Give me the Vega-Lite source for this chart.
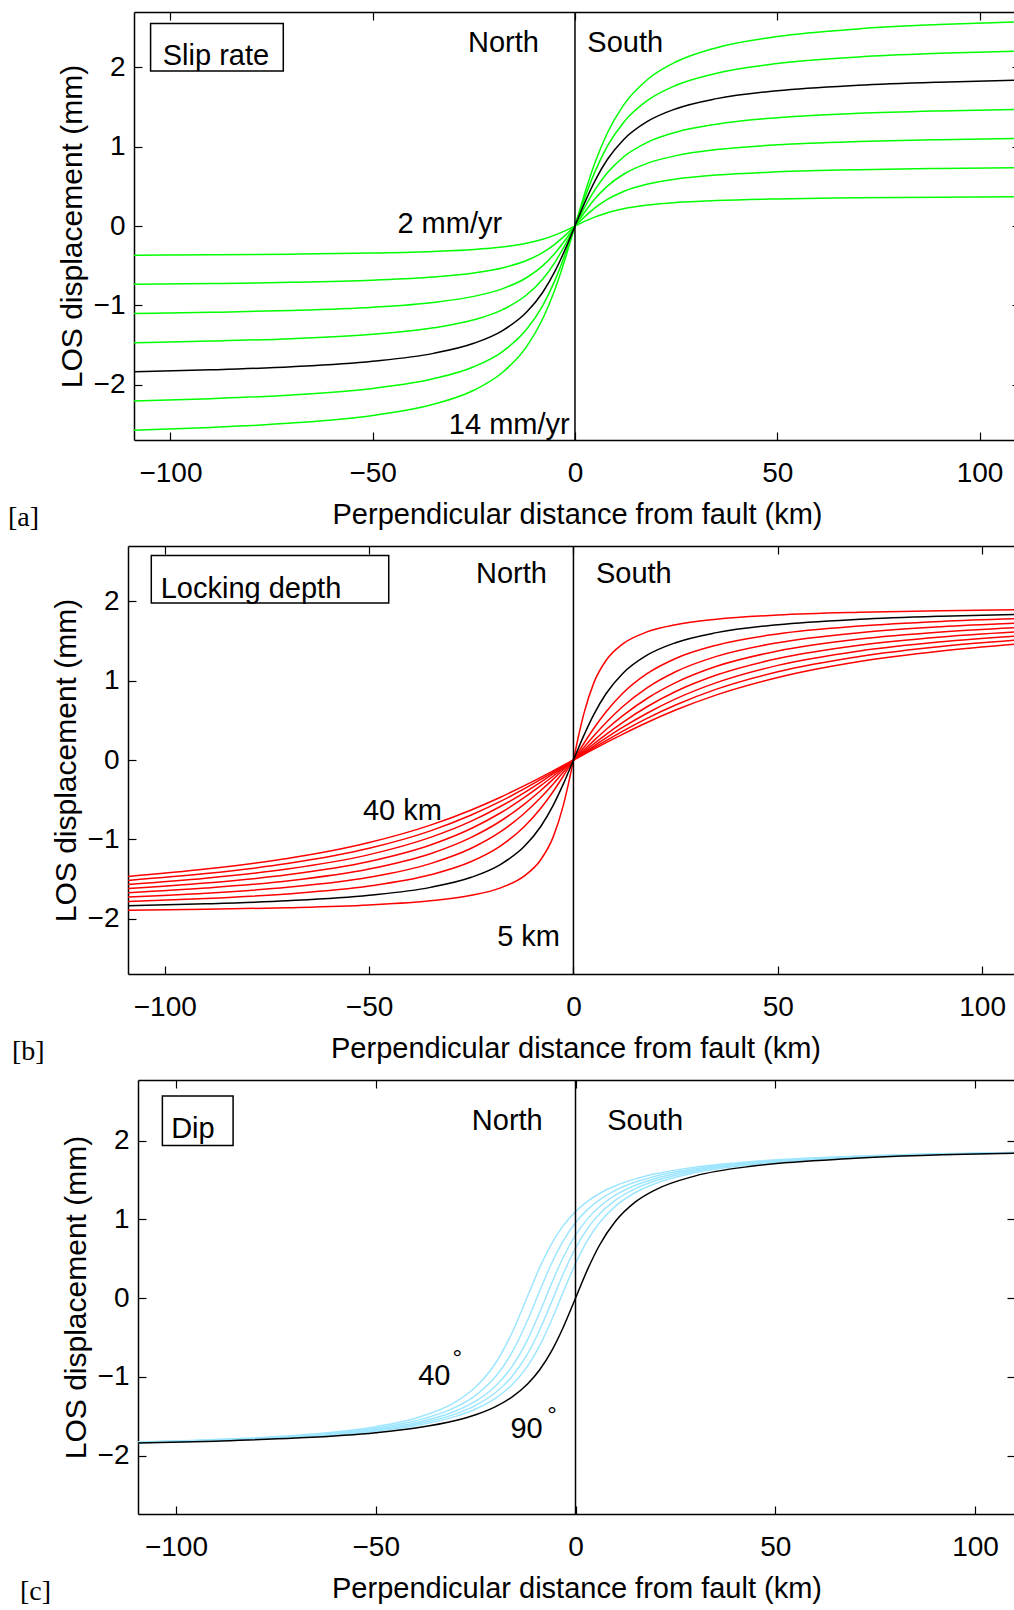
{
"$schema": "https://vega.github.io/schema/vega-lite/v6.json",
"padding": {"left": 8, "top": 11, "right": 0, "bottom": 0},
"bounds": "flush",
"spacing": 106,
"datasets": {
"a": [
{"r":2,"x":-109,"y":-0.368},{"r":2,"x":-90,"y":-0.363},{"r":2,"x":-70,"y":-0.355},{"r":2,"x":-50,"y":-0.341},{"r":2,"x":-35,"y":-0.321},{"r":2,"x":-25,"y":-0.296},{"r":2,"x":-18,"y":-0.264},{"r":2,"x":-12,"y":-0.218},{"r":2,"x":-8,"y":-0.168},{"r":2,"x":-5,"y":-0.115},{"r":2,"x":-2.5,"y":-0.061},{"r":2,"x":0,"y":0},{"r":2,"x":2.5,"y":0.061},{"r":2,"x":5,"y":0.115},{"r":2,"x":8,"y":0.168},{"r":2,"x":12,"y":0.218},{"r":2,"x":18,"y":0.264},{"r":2,"x":25,"y":0.296},{"r":2,"x":35,"y":0.321},{"r":2,"x":50,"y":0.341},{"r":2,"x":70,"y":0.355},{"r":2,"x":90,"y":0.363},{"r":2,"x":110,"y":0.368},
{"r":4,"x":-109,"y":-0.736},{"r":4,"x":-90,"y":-0.726},{"r":4,"x":-70,"y":-0.711},{"r":4,"x":-50,"y":-0.683},{"r":4,"x":-35,"y":-0.643},{"r":4,"x":-25,"y":-0.592},{"r":4,"x":-18,"y":-0.529},{"r":4,"x":-12,"y":-0.436},{"r":4,"x":-8,"y":-0.336},{"r":4,"x":-5,"y":-0.231},{"r":4,"x":-2.5,"y":-0.122},{"r":4,"x":0,"y":0},{"r":4,"x":2.5,"y":0.122},{"r":4,"x":5,"y":0.231},{"r":4,"x":8,"y":0.336},{"r":4,"x":12,"y":0.436},{"r":4,"x":18,"y":0.529},{"r":4,"x":25,"y":0.592},{"r":4,"x":35,"y":0.643},{"r":4,"x":50,"y":0.683},{"r":4,"x":70,"y":0.711},{"r":4,"x":90,"y":0.726},{"r":4,"x":110,"y":0.736},
{"r":6,"x":-109,"y":-1.104},{"r":6,"x":-90,"y":-1.089},{"r":6,"x":-70,"y":-1.066},{"r":6,"x":-50,"y":-1.024},{"r":6,"x":-35,"y":-0.964},{"r":6,"x":-25,"y":-0.888},{"r":6,"x":-18,"y":-0.793},{"r":6,"x":-12,"y":-0.653},{"r":6,"x":-8,"y":-0.503},{"r":6,"x":-5,"y":-0.346},{"r":6,"x":-2.5,"y":-0.183},{"r":6,"x":0,"y":0},{"r":6,"x":2.5,"y":0.183},{"r":6,"x":5,"y":0.346},{"r":6,"x":8,"y":0.503},{"r":6,"x":12,"y":0.653},{"r":6,"x":18,"y":0.793},{"r":6,"x":25,"y":0.888},{"r":6,"x":35,"y":0.964},{"r":6,"x":50,"y":1.024},{"r":6,"x":70,"y":1.066},{"r":6,"x":90,"y":1.089},{"r":6,"x":110,"y":1.104},
{"r":8,"x":-109,"y":-1.472},{"r":8,"x":-90,"y":-1.452},{"r":8,"x":-70,"y":-1.421},{"r":8,"x":-50,"y":-1.366},{"r":8,"x":-35,"y":-1.285},{"r":8,"x":-25,"y":-1.184},{"r":8,"x":-18,"y":-1.058},{"r":8,"x":-12,"y":-0.871},{"r":8,"x":-8,"y":-0.671},{"r":8,"x":-5,"y":-0.461},{"r":8,"x":-2.5,"y":-0.244},{"r":8,"x":0,"y":0},{"r":8,"x":2.5,"y":0.244},{"r":8,"x":5,"y":0.461},{"r":8,"x":8,"y":0.671},{"r":8,"x":12,"y":0.871},{"r":8,"x":18,"y":1.058},{"r":8,"x":25,"y":1.184},{"r":8,"x":35,"y":1.285},{"r":8,"x":50,"y":1.366},{"r":8,"x":70,"y":1.421},{"r":8,"x":90,"y":1.452},{"r":8,"x":110,"y":1.472},
{"r":10,"x":-109,"y":-1.840},{"r":10,"x":-90,"y":-1.815},{"r":10,"x":-70,"y":-1.776},{"r":10,"x":-50,"y":-1.707},{"r":10,"x":-35,"y":-1.607},{"r":10,"x":-25,"y":-1.480},{"r":10,"x":-18,"y":-1.322},{"r":10,"x":-12,"y":-1.089},{"r":10,"x":-8,"y":-0.839},{"r":10,"x":-5,"y":-0.576},{"r":10,"x":-2.5,"y":-0.305},{"r":10,"x":0,"y":0},{"r":10,"x":2.5,"y":0.305},{"r":10,"x":5,"y":0.576},{"r":10,"x":8,"y":0.839},{"r":10,"x":12,"y":1.089},{"r":10,"x":18,"y":1.322},{"r":10,"x":25,"y":1.480},{"r":10,"x":35,"y":1.607},{"r":10,"x":50,"y":1.707},{"r":10,"x":70,"y":1.776},{"r":10,"x":90,"y":1.815},{"r":10,"x":110,"y":1.840},
{"r":12,"x":-109,"y":-2.208},{"r":12,"x":-90,"y":-2.178},{"r":12,"x":-70,"y":-2.132},{"r":12,"x":-50,"y":-2.049},{"r":12,"x":-35,"y":-1.928},{"r":12,"x":-25,"y":-1.776},{"r":12,"x":-18,"y":-1.587},{"r":12,"x":-12,"y":-1.307},{"r":12,"x":-8,"y":-1.007},{"r":12,"x":-5,"y":-0.692},{"r":12,"x":-2.5,"y":-0.366},{"r":12,"x":0,"y":0},{"r":12,"x":2.5,"y":0.366},{"r":12,"x":5,"y":0.692},{"r":12,"x":8,"y":1.007},{"r":12,"x":12,"y":1.307},{"r":12,"x":18,"y":1.587},{"r":12,"x":25,"y":1.776},{"r":12,"x":35,"y":1.928},{"r":12,"x":50,"y":2.049},{"r":12,"x":70,"y":2.132},{"r":12,"x":90,"y":2.178},{"r":12,"x":110,"y":2.208},
{"r":14,"x":-109,"y":-2.576},{"r":14,"x":-90,"y":-2.541},{"r":14,"x":-70,"y":-2.487},{"r":14,"x":-50,"y":-2.390},{"r":14,"x":-35,"y":-2.250},{"r":14,"x":-25,"y":-2.072},{"r":14,"x":-18,"y":-1.851},{"r":14,"x":-12,"y":-1.525},{"r":14,"x":-8,"y":-1.174},{"r":14,"x":-5,"y":-0.807},{"r":14,"x":-2.5,"y":-0.426},{"r":14,"x":0,"y":0},{"r":14,"x":2.5,"y":0.426},{"r":14,"x":5,"y":0.807},{"r":14,"x":8,"y":1.174},{"r":14,"x":12,"y":1.525},{"r":14,"x":18,"y":1.851},{"r":14,"x":25,"y":2.072},{"r":14,"x":35,"y":2.250},{"r":14,"x":50,"y":2.390},{"r":14,"x":70,"y":2.487},{"r":14,"x":90,"y":2.541},{"r":14,"x":110,"y":2.576}
],
"b": [
{"d":5,"x":-109,"y":-1.896},{"d":5,"x":-90,"y":-1.884},{"d":5,"x":-70,"y":-1.864},{"d":5,"x":-50,"y":-1.829},{"d":5,"x":-35,"y":-1.776},{"d":5,"x":-25,"y":-1.707},{"d":5,"x":-18,"y":-1.616},{"d":5,"x":-12,"y":-1.462},{"d":5,"x":-8,"y":-1.258},{"d":5,"x":-5,"y":-0.976},{"d":5,"x":-2.5,"y":-0.576},{"d":5,"x":-1.25,"y":-0.305},{"d":5,"x":0,"y":0},{"d":5,"x":1.25,"y":0.305},{"d":5,"x":2.5,"y":0.576},{"d":5,"x":5,"y":0.976},{"d":5,"x":8,"y":1.258},{"d":5,"x":12,"y":1.462},{"d":5,"x":18,"y":1.616},{"d":5,"x":25,"y":1.707},{"d":5,"x":35,"y":1.776},{"d":5,"x":50,"y":1.829},{"d":5,"x":70,"y":1.864},{"d":5,"x":90,"y":1.884},{"d":5,"x":110,"y":1.896},
{"d":10,"x":-109,"y":-1.840},{"d":10,"x":-90,"y":-1.815},{"d":10,"x":-70,"y":-1.776},{"d":10,"x":-50,"y":-1.707},{"d":10,"x":-35,"y":-1.607},{"d":10,"x":-25,"y":-1.480},{"d":10,"x":-18,"y":-1.322},{"d":10,"x":-12,"y":-1.089},{"d":10,"x":-8,"y":-0.839},{"d":10,"x":-5,"y":-0.576},{"d":10,"x":-2.5,"y":-0.305},{"d":10,"x":0,"y":0},{"d":10,"x":2.5,"y":0.305},{"d":10,"x":5,"y":0.576},{"d":10,"x":8,"y":0.839},{"d":10,"x":12,"y":1.089},{"d":10,"x":18,"y":1.322},{"d":10,"x":25,"y":1.480},{"d":10,"x":35,"y":1.607},{"d":10,"x":50,"y":1.707},{"d":10,"x":70,"y":1.776},{"d":10,"x":90,"y":1.815},{"d":10,"x":110,"y":1.840},
{"d":15,"x":-109,"y":-1.784},{"d":15,"x":-90,"y":-1.748},{"d":15,"x":-70,"y":-1.690},{"d":15,"x":-50,"y":-1.591},{"d":15,"x":-35,"y":-1.449},{"d":15,"x":-25,"y":-1.281},{"d":15,"x":-18,"y":-1.089},{"d":15,"x":-12,"y":-0.839},{"d":15,"x":-8,"y":-0.609},{"d":15,"x":-5,"y":-0.400},{"d":15,"x":-2.5,"y":-0.205},{"d":15,"x":0,"y":0},{"d":15,"x":2.5,"y":0.205},{"d":15,"x":5,"y":0.400},{"d":15,"x":8,"y":0.609},{"d":15,"x":12,"y":0.839},{"d":15,"x":18,"y":1.089},{"d":15,"x":25,"y":1.281},{"d":15,"x":35,"y":1.449},{"d":15,"x":50,"y":1.591},{"d":15,"x":70,"y":1.690},{"d":15,"x":90,"y":1.748},{"d":15,"x":110,"y":1.784},
{"d":20,"x":-109,"y":-1.729},{"d":20,"x":-90,"y":-1.681},{"d":20,"x":-70,"y":-1.607},{"d":20,"x":-50,"y":-1.480},{"d":20,"x":-35,"y":-1.307},{"d":20,"x":-25,"y":-1.114},{"d":20,"x":-18,"y":-0.911},{"d":20,"x":-12,"y":-0.672},{"d":20,"x":-8,"y":-0.473},{"d":20,"x":-5,"y":-0.305},{"d":20,"x":-2.5,"y":-0.155},{"d":20,"x":0,"y":0},{"d":20,"x":2.5,"y":0.155},{"d":20,"x":5,"y":0.305},{"d":20,"x":8,"y":0.473},{"d":20,"x":12,"y":0.672},{"d":20,"x":18,"y":0.911},{"d":20,"x":25,"y":1.114},{"d":20,"x":35,"y":1.307},{"d":20,"x":50,"y":1.480},{"d":20,"x":70,"y":1.607},{"d":20,"x":90,"y":1.681},{"d":20,"x":110,"y":1.729},
{"d":25,"x":-109,"y":-1.675},{"d":25,"x":-90,"y":-1.616},{"d":25,"x":-70,"y":-1.526},{"d":25,"x":-50,"y":-1.376},{"d":25,"x":-35,"y":-1.182},{"d":25,"x":-25,"y":-0.976},{"d":25,"x":-18,"y":-0.776},{"d":25,"x":-12,"y":-0.556},{"d":25,"x":-8,"y":-0.385},{"d":25,"x":-5,"y":-0.245},{"d":25,"x":-2.5,"y":-0.124},{"d":25,"x":0,"y":0},{"d":25,"x":2.5,"y":0.124},{"d":25,"x":5,"y":0.245},{"d":25,"x":8,"y":0.385},{"d":25,"x":12,"y":0.556},{"d":25,"x":18,"y":0.776},{"d":25,"x":25,"y":0.976},{"d":25,"x":35,"y":1.182},{"d":25,"x":50,"y":1.376},{"d":25,"x":70,"y":1.526},{"d":25,"x":90,"y":1.616},{"d":25,"x":110,"y":1.675},
{"d":30,"x":-109,"y":-1.622},{"d":30,"x":-90,"y":-1.553},{"d":30,"x":-70,"y":-1.449},{"d":30,"x":-50,"y":-1.281},{"d":30,"x":-35,"y":-1.072},{"d":30,"x":-25,"y":-0.864},{"d":30,"x":-18,"y":-0.672},{"d":30,"x":-12,"y":-0.473},{"d":30,"x":-8,"y":-0.324},{"d":30,"x":-5,"y":-0.205},{"d":30,"x":-2.5,"y":-0.103},{"d":30,"x":0,"y":0},{"d":30,"x":2.5,"y":0.103},{"d":30,"x":5,"y":0.205},{"d":30,"x":8,"y":0.324},{"d":30,"x":12,"y":0.473},{"d":30,"x":18,"y":0.672},{"d":30,"x":25,"y":0.864},{"d":30,"x":35,"y":1.072},{"d":30,"x":50,"y":1.281},{"d":30,"x":70,"y":1.449},{"d":30,"x":90,"y":1.553},{"d":30,"x":110,"y":1.622},
{"d":35,"x":-109,"y":-1.570},{"d":35,"x":-90,"y":-1.492},{"d":35,"x":-70,"y":-1.376},{"d":35,"x":-50,"y":-1.194},{"d":35,"x":-35,"y":-0.976},{"d":35,"x":-25,"y":-0.771},{"d":35,"x":-18,"y":-0.590},{"d":35,"x":-12,"y":-0.411},{"d":35,"x":-8,"y":-0.279},{"d":35,"x":-5,"y":-0.176},{"d":35,"x":-2.5,"y":-0.089},{"d":35,"x":0,"y":0},{"d":35,"x":2.5,"y":0.089},{"d":35,"x":5,"y":0.176},{"d":35,"x":8,"y":0.279},{"d":35,"x":12,"y":0.411},{"d":35,"x":18,"y":0.590},{"d":35,"x":25,"y":0.771},{"d":35,"x":35,"y":0.976},{"d":35,"x":50,"y":1.194},{"d":35,"x":70,"y":1.376},{"d":35,"x":90,"y":1.492},{"d":35,"x":110,"y":1.570},
{"d":40,"x":-109,"y":-1.519},{"d":40,"x":-90,"y":-1.433},{"d":40,"x":-70,"y":-1.307},{"d":40,"x":-50,"y":-1.114},{"d":40,"x":-35,"y":-0.894},{"d":40,"x":-25,"y":-0.694},{"d":40,"x":-18,"y":-0.526},{"d":40,"x":-12,"y":-0.362},{"d":40,"x":-8,"y":-0.245},{"d":40,"x":-5,"y":-0.155},{"d":40,"x":-2.5,"y":-0.078},{"d":40,"x":0,"y":0},{"d":40,"x":2.5,"y":0.078},{"d":40,"x":5,"y":0.155},{"d":40,"x":8,"y":0.245},{"d":40,"x":12,"y":0.362},{"d":40,"x":18,"y":0.526},{"d":40,"x":25,"y":0.694},{"d":40,"x":35,"y":0.894},{"d":40,"x":50,"y":1.114},{"d":40,"x":70,"y":1.307},{"d":40,"x":90,"y":1.433},{"d":40,"x":110,"y":1.519},
{"d":45,"x":-109,"y":-1.470},{"d":45,"x":-90,"y":-1.376},{"d":45,"x":-70,"y":-1.243},{"d":45,"x":-50,"y":-1.042},{"d":45,"x":-35,"y":-0.822},{"d":45,"x":-25,"y":-0.630},{"d":45,"x":-18,"y":-0.473},{"d":45,"x":-12,"y":-0.324},{"d":45,"x":-8,"y":-0.219},{"d":45,"x":-5,"y":-0.138},{"d":45,"x":-2.5,"y":-0.069},{"d":45,"x":0,"y":0},{"d":45,"x":2.5,"y":0.069},{"d":45,"x":5,"y":0.138},{"d":45,"x":8,"y":0.219},{"d":45,"x":12,"y":0.324},{"d":45,"x":18,"y":0.473},{"d":45,"x":25,"y":0.630},{"d":45,"x":35,"y":0.822},{"d":45,"x":50,"y":1.042},{"d":45,"x":70,"y":1.243},{"d":45,"x":90,"y":1.376},{"d":45,"x":110,"y":1.470}
],
"c": [
{"g":40,"x":-109.5,"y":-1.826},{"g":40,"x":-90,"y":-1.794},{"g":40,"x":-70,"y":-1.740},{"g":40,"x":-50,"y":-1.631},{"g":40,"x":-40,"y":-1.524},{"g":40,"x":-30,"y":-1.317},{"g":40,"x":-25,"y":-1.128},{"g":40,"x":-20,"y":-0.823},{"g":40,"x":-16,"y":-0.451},{"g":40,"x":-12,"y":0.025},{"g":40,"x":-9,"y":0.385},{"g":40,"x":-6,"y":0.690},{"g":40,"x":-3,"y":0.924},{"g":40,"x":0,"y":1.099},{"g":40,"x":3,"y":1.229},{"g":40,"x":6,"y":1.329},{"g":40,"x":10,"y":1.427},{"g":40,"x":15,"y":1.515},{"g":40,"x":20,"y":1.579},{"g":40,"x":30,"y":1.664},{"g":40,"x":45,"y":1.738},{"g":40,"x":70,"y":1.802},{"g":40,"x":110,"y":1.851},
{"g":50,"x":-109.5,"y":-1.829},{"g":50,"x":-90,"y":-1.799},{"g":50,"x":-70,"y":-1.749},{"g":50,"x":-50,"y":-1.650},{"g":50,"x":-40,"y":-1.557},{"g":50,"x":-30,"y":-1.384},{"g":50,"x":-25,"y":-1.233},{"g":50,"x":-20,"y":-0.995},{"g":50,"x":-16,"y":-0.699},{"g":50,"x":-12,"y":-0.281},{"g":50,"x":-9,"y":0.087},{"g":50,"x":-6,"y":0.440},{"g":50,"x":-3,"y":0.734},{"g":50,"x":0,"y":0.958},{"g":50,"x":3,"y":1.124},{"g":50,"x":6,"y":1.248},{"g":50,"x":10,"y":1.369},{"g":50,"x":15,"y":1.475},{"g":50,"x":20,"y":1.549},{"g":50,"x":30,"y":1.646},{"g":50,"x":45,"y":1.728},{"g":50,"x":70,"y":1.798},{"g":50,"x":110,"y":1.849},
{"g":60,"x":-109.5,"y":-1.832},{"g":60,"x":-90,"y":-1.803},{"g":60,"x":-70,"y":-1.756},{"g":60,"x":-50,"y":-1.666},{"g":60,"x":-40,"y":-1.582},{"g":60,"x":-30,"y":-1.433},{"g":60,"x":-25,"y":-1.307},{"g":60,"x":-20,"y":-1.114},{"g":60,"x":-16,"y":-0.876},{"g":60,"x":-12,"y":-0.526},{"g":60,"x":-9,"y":-0.185},{"g":60,"x":-6,"y":0.185},{"g":60,"x":-3,"y":0.526},{"g":60,"x":0,"y":0.800},{"g":60,"x":3,"y":1.007},{"g":60,"x":6,"y":1.160},{"g":60,"x":10,"y":1.307},{"g":60,"x":15,"y":1.433},{"g":60,"x":20,"y":1.519},{"g":60,"x":30,"y":1.629},{"g":60,"x":45,"y":1.719},{"g":60,"x":70,"y":1.793},{"g":60,"x":110,"y":1.847},
{"g":70,"x":-109.5,"y":-1.834},{"g":70,"x":-90,"y":-1.806},{"g":70,"x":-70,"y":-1.761},{"g":70,"x":-50,"y":-1.677},{"g":70,"x":-40,"y":-1.601},{"g":70,"x":-30,"y":-1.469},{"g":70,"x":-25,"y":-1.361},{"g":70,"x":-20,"y":-1.198},{"g":70,"x":-16,"y":-1.001},{"g":70,"x":-12,"y":-0.708},{"g":70,"x":-9,"y":-0.407},{"g":70,"x":-6,"y":-0.050},{"g":70,"x":-3,"y":0.316},{"g":70,"x":0,"y":0.635},{"g":70,"x":3,"y":0.883},{"g":70,"x":6,"y":1.068},{"g":70,"x":10,"y":1.244},{"g":70,"x":15,"y":1.391},{"g":70,"x":20,"y":1.490},{"g":70,"x":30,"y":1.612},{"g":70,"x":45,"y":1.710},{"g":70,"x":70,"y":1.789},{"g":70,"x":110,"y":1.846},
{"g":80,"x":-109.5,"y":-1.836},{"g":80,"x":-90,"y":-1.809},{"g":80,"x":-70,"y":-1.767},{"g":80,"x":-50,"y":-1.688},{"g":80,"x":-40,"y":-1.619},{"g":80,"x":-30,"y":-1.501},{"g":80,"x":-25,"y":-1.407},{"g":80,"x":-20,"y":-1.269},{"g":80,"x":-16,"y":-1.105},{"g":80,"x":-12,"y":-0.862},{"g":80,"x":-9,"y":-0.606},{"g":80,"x":-6,"y":-0.281},{"g":80,"x":-3,"y":0.087},{"g":80,"x":0,"y":0.440},{"g":80,"x":3,"y":0.734},{"g":80,"x":6,"y":0.958},{"g":80,"x":10,"y":1.169},{"g":80,"x":15,"y":1.342},{"g":80,"x":20,"y":1.456},{"g":80,"x":30,"y":1.594},{"g":80,"x":45,"y":1.701},{"g":80,"x":70,"y":1.785},{"g":80,"x":110,"y":1.844},
{"g":90,"x":-109.5,"y":-1.840},{"g":90,"x":-90,"y":-1.815},{"g":90,"x":-70,"y":-1.776},{"g":90,"x":-50,"y":-1.707},{"g":90,"x":-40,"y":-1.648},{"g":90,"x":-30,"y":-1.553},{"g":90,"x":-25,"y":-1.480},{"g":90,"x":-20,"y":-1.376},{"g":90,"x":-16,"y":-1.258},{"g":90,"x":-12,"y":-1.089},{"g":90,"x":-9,"y":-0.911},{"g":90,"x":-6,"y":-0.672},{"g":90,"x":-3,"y":-0.362},{"g":90,"x":0,"y":0},{"g":90,"x":3,"y":0.362},{"g":90,"x":6,"y":0.672},{"g":90,"x":10,"y":0.976},{"g":90,"x":15,"y":1.222},{"g":90,"x":20,"y":1.376},{"g":90,"x":30,"y":1.553},{"g":90,"x":45,"y":1.681},{"g":90,"x":70,"y":1.776},{"g":90,"x":110,"y":1.840}
]
},
"vconcat": [
{
"width": 892, "height": 428,
"title": {"text": "[a]", "orient": "bottom", "anchor": "start", "frame": "group", "dx": -120, "dy": -29, "font": "Liberation Serif", "fontSize": 28, "fontWeight": "normal", "color": "black"},
"layer": [
{"data": {"name": "a"}, "transform": [{"filter": "datum.r != 10"}],
 "mark": {"type": "line", "color": "#00ff00", "strokeWidth": 1.5, "interpolate": "monotone"},
 "encoding": {
  "x": {"field": "x", "type": "quantitative", "scale": {"domain": [-109, 110], "range": [6, 892], "nice": false, "zero": false}, "axis": {"orient": "bottom", "values": [-100, -50, 0, 50, 100], "title": "Perpendicular distance from fault (km)"}},
  "y": {"field": "y", "type": "quantitative", "scale": {"domain": [-2.7, 2.7], "nice": false, "zero": false}, "axis": {"orient": "left", "offset": -6, "values": [-2, -1, 0, 1, 2], "title": "LOS displacement (mm)"}},
  "detail": {"field": "r"}}},
{"data": {"name": "a"}, "transform": [{"filter": "datum.r == 10"}],
 "mark": {"type": "line", "color": "black", "strokeWidth": 1.5, "interpolate": "monotone"},
 "encoding": {
  "x": {"field": "x", "type": "quantitative", "scale": {"domain": [-109, 110], "range": [6, 892], "nice": false, "zero": false}, "axis": {"orient": "top", "values": [-100, -50, 0, 50, 100], "labels": false, "title": null}},
  "y": {"field": "y", "type": "quantitative", "scale": {"domain": [-2.7, 2.7], "nice": false, "zero": false}, "axis": {"orient": "right", "values": [-2, -1, 0, 1, 2], "labels": false, "title": null}}}},
{"data": {"values": [{"x": 0}]}, "mark": {"type": "rule", "color": "black", "strokeWidth": 1.5},
 "encoding": {"x": {"field": "x", "type": "quantitative", "scale": {"domain": [-109, 110], "range": [6, 892], "nice": false, "zero": false}, "axis": null}}},
{"data": {"values": [{"x": -104.9, "x2": -72.1, "y": 2.555, "y2": 1.956}]}, "mark": {"type": "rect", "fill": "white", "stroke": "black", "strokeWidth": 1.5},
 "encoding": {"x": {"field": "x", "type": "quantitative", "scale": {"domain": [-109, 110], "range": [6, 892], "nice": false, "zero": false}, "axis": null}, "x2": {"field": "x2"}, "y": {"field": "y", "type": "quantitative", "scale": {"domain": [-2.7, 2.7], "nice": false, "zero": false}, "axis": null}, "y2": {"field": "y2"}}},
{"data": {"values": [{"t": "North", "x": -8.9, "y": 2.2}, {"t": "2 mm/yr", "x": -18.0, "y": -0.088}, {"t": "14 mm/yr", "x": -1.3, "y": -2.62}]},
 "mark": {"type": "text", "align": "right", "baseline": "alphabetic", "font": "Liberation Sans", "fontSize": 29, "color": "black"},
 "encoding": {"x": {"field": "x", "type": "quantitative", "scale": {"domain": [-109, 110], "range": [6, 892], "nice": false, "zero": false}, "axis": null}, "y": {"field": "y", "type": "quantitative", "scale": {"domain": [-2.7, 2.7], "nice": false, "zero": false}, "axis": null}, "text": {"field": "t"}}},
{"data": {"values": [{"t": "South", "x": 3.05, "y": 2.2}, {"t": "Slip rate", "x": -101.9, "y": 2.033}]},
 "mark": {"type": "text", "align": "left", "baseline": "alphabetic", "font": "Liberation Sans", "fontSize": 29, "color": "black"},
 "encoding": {"x": {"field": "x", "type": "quantitative", "scale": {"domain": [-109, 110], "range": [6, 892], "nice": false, "zero": false}, "axis": null}, "y": {"field": "y", "type": "quantitative", "scale": {"domain": [-2.7, 2.7], "nice": false, "zero": false}, "axis": null}, "text": {"field": "t"}}}
],
"resolve": {"axis": {"x": "independent", "y": "independent"}}
},
{
"width": 895, "height": 428,
"title": {"text": "[b]", "orient": "bottom", "anchor": "start", "frame": "group", "dx": -116, "dy": -29, "font": "Liberation Serif", "fontSize": 28, "fontWeight": "normal", "color": "black"},
"layer": [
{"data": {"name": "b"}, "transform": [{"filter": "datum.d != 10"}],
 "mark": {"type": "line", "color": "#ff0000", "strokeWidth": 1.5, "interpolate": "monotone"},
 "encoding": {
  "x": {"field": "x", "type": "quantitative", "scale": {"domain": [-109, 110], "nice": false, "zero": false}, "axis": {"orient": "bottom", "values": [-100, -50, 0, 50, 100], "title": "Perpendicular distance from fault (km)"}},
  "y": {"field": "y", "type": "quantitative", "scale": {"domain": [-2.7, 2.7], "nice": false, "zero": false}, "axis": {"orient": "left", "values": [-2, -1, 0, 1, 2], "title": "LOS displacement (mm)"}},
  "detail": {"field": "d"}}},
{"data": {"name": "b"}, "transform": [{"filter": "datum.d == 10"}],
 "mark": {"type": "line", "color": "black", "strokeWidth": 1.5, "interpolate": "monotone"},
 "encoding": {
  "x": {"field": "x", "type": "quantitative", "scale": {"domain": [-109, 110], "nice": false, "zero": false}, "axis": {"orient": "top", "values": [-100, -50, 0, 50, 100], "labels": false, "title": null}},
  "y": {"field": "y", "type": "quantitative", "scale": {"domain": [-2.7, 2.7], "nice": false, "zero": false}, "axis": {"orient": "right", "values": [-2, -1, 0, 1, 2], "labels": false, "title": null}}}},
{"data": {"values": [{"x": 0}]}, "mark": {"type": "rule", "color": "black", "strokeWidth": 1.5},
 "encoding": {"x": {"field": "x", "type": "quantitative", "scale": {"domain": [-109, 110], "nice": false, "zero": false}, "axis": null}}},
{"data": {"values": [{"x": -103.3, "x2": -45.2, "y": 2.58, "y2": 1.98}]}, "mark": {"type": "rect", "fill": "white", "stroke": "black", "strokeWidth": 1.5},
 "encoding": {"x": {"field": "x", "type": "quantitative", "scale": {"domain": [-109, 110], "nice": false, "zero": false}, "axis": null}, "x2": {"field": "x2"}, "y": {"field": "y", "type": "quantitative", "scale": {"domain": [-2.7, 2.7], "nice": false, "zero": false}, "axis": null}, "y2": {"field": "y2"}}},
{"data": {"values": [{"t": "North", "x": -6.5, "y": 2.23}, {"t": "40 km", "x": -32.2, "y": -0.76}, {"t": "5 km", "x": -3.3, "y": -2.35}]},
 "mark": {"type": "text", "align": "right", "baseline": "alphabetic", "font": "Liberation Sans", "fontSize": 29, "color": "black"},
 "encoding": {"x": {"field": "x", "type": "quantitative", "scale": {"domain": [-109, 110], "nice": false, "zero": false}, "axis": null}, "y": {"field": "y", "type": "quantitative", "scale": {"domain": [-2.7, 2.7], "nice": false, "zero": false}, "axis": null}, "text": {"field": "t"}}},
{"data": {"values": [{"t": "South", "x": 5.5, "y": 2.23}, {"t": "Locking depth", "x": -101.0, "y": 2.05}]},
 "mark": {"type": "text", "align": "left", "baseline": "alphabetic", "font": "Liberation Sans", "fontSize": 29, "color": "black"},
 "encoding": {"x": {"field": "x", "type": "quantitative", "scale": {"domain": [-109, 110], "nice": false, "zero": false}, "axis": null}, "y": {"field": "y", "type": "quantitative", "scale": {"domain": [-2.7, 2.7], "nice": false, "zero": false}, "axis": null}, "text": {"field": "t"}}}
],
"resolve": {"axis": {"x": "independent", "y": "independent"}}
},
{
"width": 887, "height": 434,
"title": {"text": "[c]", "orient": "bottom", "anchor": "start", "frame": "group", "dx": -108, "dy": -29, "font": "Liberation Serif", "fontSize": 28, "fontWeight": "normal", "color": "black"},
"layer": [
{"data": {"name": "c"}, "transform": [{"filter": "datum.g != 90"}],
 "mark": {"type": "line", "color": "#9ee6ff", "strokeWidth": 1.5, "interpolate": "monotone"},
 "encoding": {
  "x": {"field": "x", "type": "quantitative", "scale": {"domain": [-109.5, 110], "range": [10, 887], "nice": false, "zero": false}, "axis": {"orient": "bottom", "values": [-100, -50, 0, 50, 100], "title": "Perpendicular distance from fault (km)"}},
  "y": {"field": "y", "type": "quantitative", "scale": {"domain": [-2.74, 2.77], "nice": false, "zero": false}, "axis": {"orient": "left", "offset": -10, "values": [-2, -1, 0, 1, 2], "title": "LOS displacement (mm)"}},
  "detail": {"field": "g"}}},
{"data": {"name": "c"}, "transform": [{"filter": "datum.g == 90"}],
 "mark": {"type": "line", "color": "black", "strokeWidth": 1.5, "interpolate": "monotone"},
 "encoding": {
  "x": {"field": "x", "type": "quantitative", "scale": {"domain": [-109.5, 110], "range": [10, 887], "nice": false, "zero": false}, "axis": {"orient": "top", "values": [-100, -50, 0, 50, 100], "labels": false, "title": null}},
  "y": {"field": "y", "type": "quantitative", "scale": {"domain": [-2.74, 2.77], "nice": false, "zero": false}, "axis": {"orient": "right", "values": [-2, -1, 0, 1, 2], "labels": false, "title": null}}}},
{"data": {"values": [{"x": 0}]}, "mark": {"type": "rule", "color": "black", "strokeWidth": 1.5},
 "encoding": {"x": {"field": "x", "type": "quantitative", "scale": {"domain": [-109.5, 110], "range": [10, 887], "nice": false, "zero": false}, "axis": null}}},
{"data": {"values": [{"x": -103.4, "x2": -85.7, "y": 2.567, "y2": 1.94}]}, "mark": {"type": "rect", "fill": "white", "stroke": "black", "strokeWidth": 1.5},
 "encoding": {"x": {"field": "x", "type": "quantitative", "scale": {"domain": [-109.5, 110], "range": [10, 887], "nice": false, "zero": false}, "axis": null}, "x2": {"field": "x2"}, "y": {"field": "y", "type": "quantitative", "scale": {"domain": [-2.74, 2.77], "nice": false, "zero": false}, "axis": null}, "y2": {"field": "y2"}}},
{"data": {"values": [{"t": "North", "x": -8.2, "y": 2.13}, {"t": "40", "x": -31.3, "y": -1.10}, {"t": "90", "x": -8.2, "y": -1.78}]},
 "mark": {"type": "text", "align": "right", "baseline": "alphabetic", "font": "Liberation Sans", "fontSize": 29, "color": "black"},
 "encoding": {"x": {"field": "x", "type": "quantitative", "scale": {"domain": [-109.5, 110], "range": [10, 887], "nice": false, "zero": false}, "axis": null}, "y": {"field": "y", "type": "quantitative", "scale": {"domain": [-2.74, 2.77], "nice": false, "zero": false}, "axis": null}, "text": {"field": "t"}}},
{"data": {"values": [{"t": "South", "x": 7.95, "y": 2.13}, {"t": "Dip", "x": -101.2, "y": 2.035}]},
 "mark": {"type": "text", "align": "left", "baseline": "alphabetic", "font": "Liberation Sans", "fontSize": 29, "color": "black"},
 "encoding": {"x": {"field": "x", "type": "quantitative", "scale": {"domain": [-109.5, 110], "range": [10, 887], "nice": false, "zero": false}, "axis": null}, "y": {"field": "y", "type": "quantitative", "scale": {"domain": [-2.74, 2.77], "nice": false, "zero": false}, "axis": null}, "text": {"field": "t"}}},
{"data": {"values": [{"t": "°", "x": -30.8, "y": -0.86}, {"t": "°", "x": -7.1, "y": -1.58}]},
 "mark": {"type": "text", "align": "left", "baseline": "alphabetic", "font": "Liberation Sans", "fontSize": 24, "color": "black"},
 "encoding": {"x": {"field": "x", "type": "quantitative", "scale": {"domain": [-109.5, 110], "range": [10, 887], "nice": false, "zero": false}, "axis": null}, "y": {"field": "y", "type": "quantitative", "scale": {"domain": [-2.74, 2.77], "nice": false, "zero": false}, "axis": null}, "text": {"field": "t"}}}
],
"resolve": {"axis": {"x": "independent", "y": "independent"}}
}
],
"config": {
 "background": "white",
 "view": {"stroke": null},
 "axis": {"grid": false, "tickSize": -8, "tickColor": "black", "tickWidth": 1.2, "domainColor": "black", "domainWidth": 1.5, "labelFont": "Liberation Sans", "labelFontSize": 28, "labelColor": "black", "labelFlush": false, "titleFont": "Liberation Sans", "titleFontWeight": "normal", "titleColor": "black"},
 "axisX": {"labelPadding": 27, "titlePadding": 13, "titleFontSize": 29},
 "axisY": {"labelPadding": 17, "titlePadding": 6, "titleFontSize": 30}
}
}
